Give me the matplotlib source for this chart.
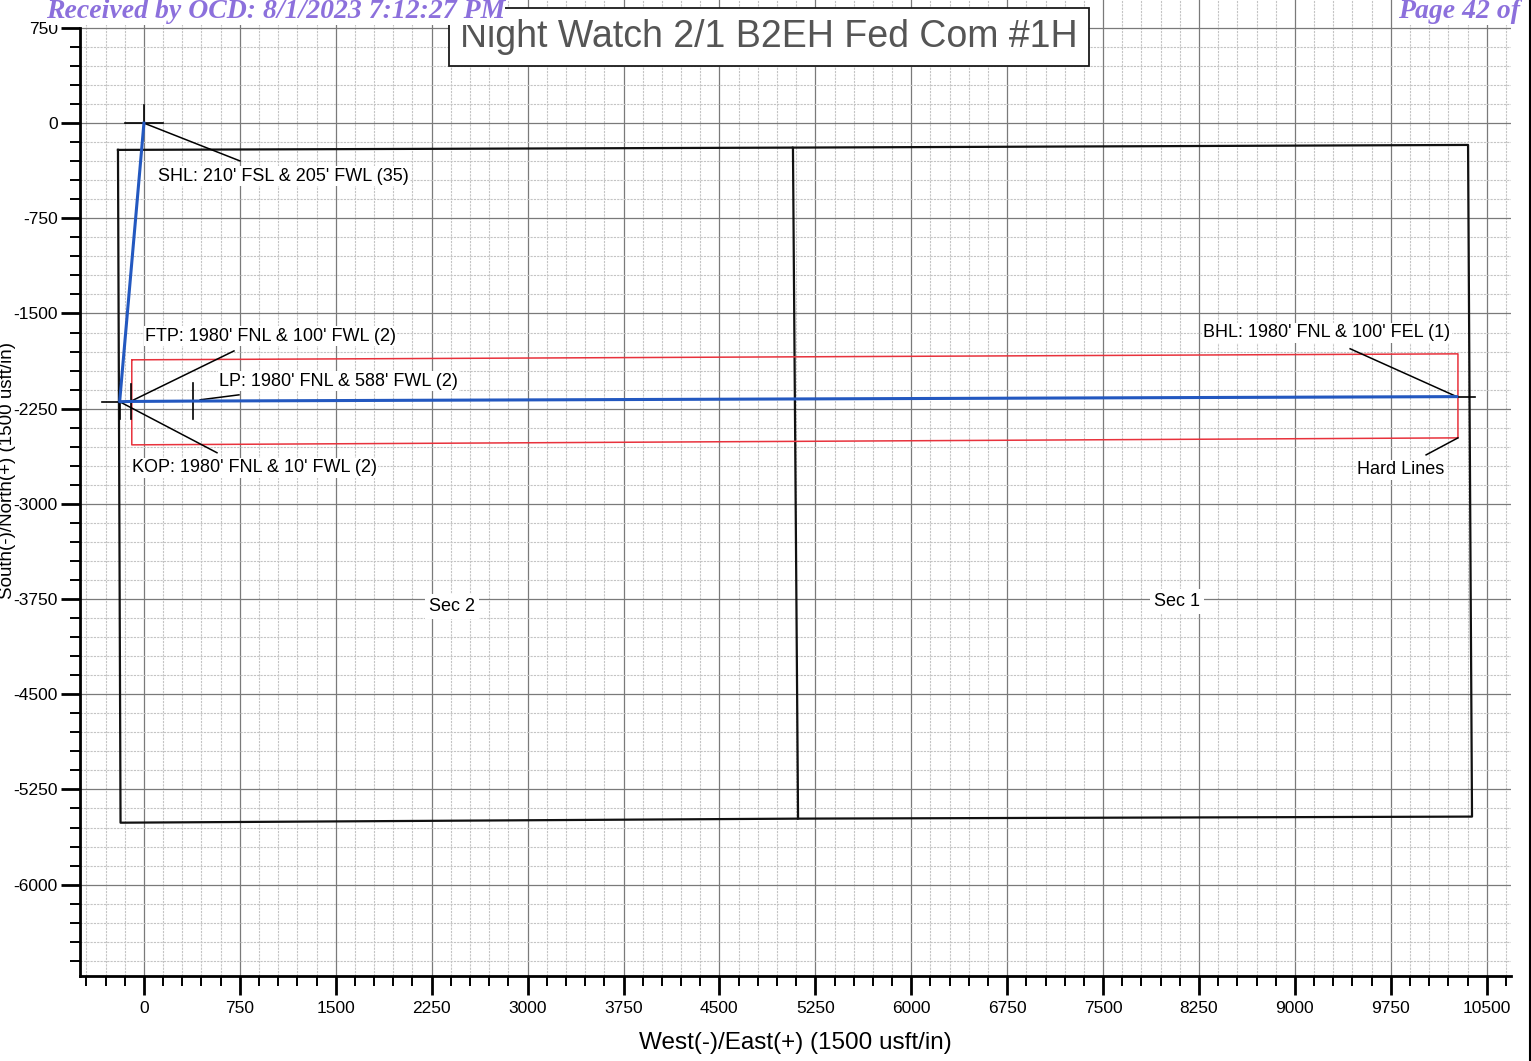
import numpy as np
import matplotlib
matplotlib.use("Agg")
import matplotlib.pyplot as plt

plt.rcParams['font.family'] = ['Liberation Sans', 'DejaVu Sans']
plt.rcParams['axes.unicode_minus'] = False

# well path (usft): SHL, KOP, FTP, LP, BHL
path_x = [0, -190, -105, 383, 10265]
path_y = [0, -2195, -2193, -2190, -2155]

# hard lines box
hard_x = [-95, 10275, 10275, -95, -95]
hard_y = [-1865, -1818, -2480, -2535, -1865]

# section outlines
sec2_x = [-203, 5075, 5115, -183, -203]
sec2_y = [-211, -193, -5480, -5512, -211]
sec1_x = [5075, 10354, 10385, 5115]
sec1_y = [-193, -172, -5464, -5480]

# annotations: text, text pos, leader start, leader end
labels = ["SHL: 210' FSL & 205' FWL (35)",
          "FTP: 1980' FNL & 100' FWL (2)",
          "LP: 1980' FNL & 588' FWL (2)",
          "KOP: 1980' FNL & 10' FWL (2)",
          "BHL: 1980' FNL & 100' FEL (1)",
          "Hard Lines"]
label_x = [109, 8, 587, -94, 8282, 9486]
label_y = [-417, -1678, -2032, -2717, -1652, -2732]
lead_x0 = [0, -105, 440, -190, 10265, 10275]
lead_y0 = [0, -2193, -2180, -2195, -2155, -2480]
lead_x1 = [751, 704, 743, 571, 9432, 10026]
lead_y1 = [-298, -1795, -2141, -2597, -1778, -2614]

sec_names = ["Sec 2", "Sec 1"]
sec_lx = [2409, 8078]
sec_ly = [-3810, -3771]

xmajor = np.arange(0, 10501, 750)
xminor = np.arange(-450, 10651, 150)
ymajor = np.arange(-6000, 751, 750)
yminor = np.arange(-6600, 751, 150)

fig = plt.figure(figsize=(15.31, 10.61), dpi=100, facecolor='w')
ax = fig.add_axes([0.05225, 0.0801, 0.9347, 0.9199])

ax.set_xlim(-500, 10690)
ax.set_ylim(-6720, 970)
ax.set_xticks(xmajor)
ax.set_xticks(xminor, minor=True)
ax.set_yticks(ymajor)
ax.set_yticks(yminor, minor=True)
ax.grid(which='major', color='#7a7a7a', lw=0.9)
ax.grid(which='minor', color='#c4c4c4', lw=0.8, ls=(0, (2, 1)))
ax.set_axisbelow(True)

for s in ['top', 'right']:
    ax.spines[s].set_visible(False)
ax.spines['left'].set_linewidth(2)
ax.spines['bottom'].set_linewidth(2)
ax.spines['left'].set_bounds(-6720, 750)
ax.tick_params(which='major', length=14, width=2, labelsize=12.5)
ax.tick_params(which='minor', length=7, width=1.4)
ax.tick_params(axis='y', which='major', pad=2)
ax.tick_params(axis='x', which='major', pad=4)

# section lines
ax.plot(sec2_x, sec2_y, color='#111111', lw=1.6)
ax.plot(sec1_x, sec1_y, color='#111111', lw=1.6)

# hard lines
ax.plot(hard_x, hard_y, color='#e8323c', lw=1.1)

# well path
ax.plot(path_x, path_y, color='#2358c0', lw=2.2, zorder=5)

# markers
ax.plot([-150, 150], [0, 0], color='k', lw=1.2)
ax.plot([0, 0], [0, 145], color='k', lw=1.2)
ax.plot([-330, path_x[1]], [path_y[1], path_y[1]], color='k', lw=1.2)
ax.plot([path_x[1], path_x[1]], [path_y[1] + 140, path_y[1] - 140], color='k', lw=1.2)
ax.plot([path_x[2], path_x[2]], [path_y[2] + 140, path_y[2] - 140], color='k', lw=1.2)
ax.plot([path_x[3], path_x[3]], [path_y[3] + 140, path_y[3] - 140], color='k', lw=1.2)
ax.plot([path_x[4], path_x[4] + 140], [path_y[4], path_y[4]], color='k', lw=1.2)

for i in range(len(labels)):
    ax.plot([lead_x0[i], lead_x1[i]], [lead_y0[i], lead_y1[i]], color='k', lw=1.1)
    ax.text(label_x[i], label_y[i], labels[i], fontsize=13, ha='left', va='center',
            bbox=dict(facecolor='w', edgecolor='none', pad=1))

for i in range(len(sec_names)):
    ax.text(sec_lx[i], sec_ly[i], sec_names[i], fontsize=13, ha='center', va='center',
            bbox=dict(facecolor='w', edgecolor='none', pad=3))

fig.text(795 / 1531, 1 - 1043 / 1061, "West(-)/East(+) (1500 usft/in)",
         fontsize=17.5, ha='center', va='center')
fig.text(0.0046, 0.557, "South(-)/North(+) (1500 usft/in)", fontsize=13.5,
         rotation=90, ha='center', va='center')

fig.text(769 / 1531, 1 - 37 / 1061, "Night Watch 2/1 B2EH Fed Com #1H", fontsize=27,
         color='#555555', ha='center', va='center',
         bbox=dict(boxstyle='square,pad=0.3', facecolor='w', edgecolor='#1a1a1a', lw=1.3))

# stamp
fig.text(46 / 1531, 1 - 12 / 1061, "Received by OCD: 8/1/2023 7:12:27 PM", fontsize=20,
         family='Liberation Serif', style='italic', weight='bold', color='#8c70dc',
         ha='left', va='center',
         bbox=dict(facecolor='w', edgecolor='none', pad=0))
fig.text(1398 / 1531, 1 - 12 / 1061, "Page 42 of", fontsize=20,
         family='Liberation Serif', style='italic', weight='bold', color='#8c70dc',
         ha='left', va='center',
         bbox=dict(facecolor='w', edgecolor='none', pad=0))

fig.add_artist(plt.Line2D([0.9993, 0.9993], [0, 1], color='k', lw=1.5))

fig.savefig("out.png", dpi=100, facecolor='w')
